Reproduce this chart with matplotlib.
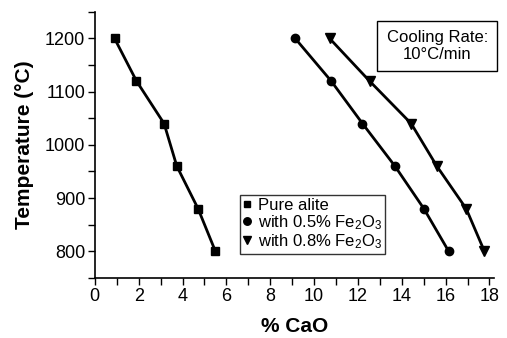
import numpy as np
import matplotlib
matplotlib.use("Agg")
import matplotlib.pyplot as plt
from matplotlib.ticker import MultipleLocator

plt.rcParams["font.family"] = ["Liberation Sans", "DejaVu Sans"]
plt.rcParams["mathtext.fontset"] = "custom"
plt.rcParams["mathtext.rm"] = "Liberation Sans"

temps = [1200, 1120, 1040, 960, 880, 800]
cao_pure = [0.9, 1.9, 3.16, 3.74, 4.71, 5.5]
cao_05 = [9.14, 10.78, 12.21, 13.69, 15.01, 16.14]
cao_08 = [10.71, 12.53, 14.43, 15.6, 16.94, 17.77]
labels = ["Pure alite",
          r"with 0.5% Fe$\mathregular{_2}$O$\mathregular{_3}$",
          r"with 0.8% Fe$\mathregular{_2}$O$\mathregular{_3}$"]

fig = plt.figure(figsize=(5.07, 3.38), dpi=100)
ax = fig.add_axes([0.187, 0.178, 0.787, 0.787])

handles = []
for x, m, ms in zip([cao_pure, cao_05, cao_08], ["s", "o", "v"], [5.5, 6, 6.5]):
    ax.plot(x, temps, color="black", lw=2)
    h, = ax.plot(x, temps, ls="none", marker=m, ms=ms, color="black")
    handles.append(h)

ax.set_xlim(0, 18.2)
ax.set_ylim(750, 1250)
ax.xaxis.set_major_locator(MultipleLocator(2))
ax.xaxis.set_minor_locator(MultipleLocator(1))
ax.yaxis.set_major_locator(MultipleLocator(100))
ax.yaxis.set_minor_locator(MultipleLocator(50))
ax.tick_params(which="both", direction="out", length=5, width=1,
               labelsize=13, pad=2)
for s in ["top", "right"]:
    ax.spines[s].set_visible(False)
ax.spines["left"].set_linewidth(1.2)
ax.spines["bottom"].set_linewidth(1.2)

ax.set_xlabel("% CaO", fontsize=15, fontweight="bold", labelpad=9)
ax.set_ylabel("Temperature (°C)", fontsize=15, fontweight="bold", labelpad=8)

leg = ax.legend(handles, labels, loc="lower left", bbox_to_anchor=(0.363, 0.09),
                fontsize=12, frameon=True, fancybox=False, edgecolor="black",
                handlelength=0.5, handletextpad=0.4, borderpad=0.2,
                labelspacing=0.0, markerscale=0.9, borderaxespad=0)
leg.get_frame().set_linewidth(1)

ax.text(0.858, 0.872, "Cooling Rate:\n10°C/min", transform=ax.transAxes,
        ha="center", va="center", fontsize=12, linespacing=1.15,
        bbox=dict(boxstyle="square,pad=0.55", fc="white", ec="black", lw=1))

fig.savefig("out.png", dpi=100)
